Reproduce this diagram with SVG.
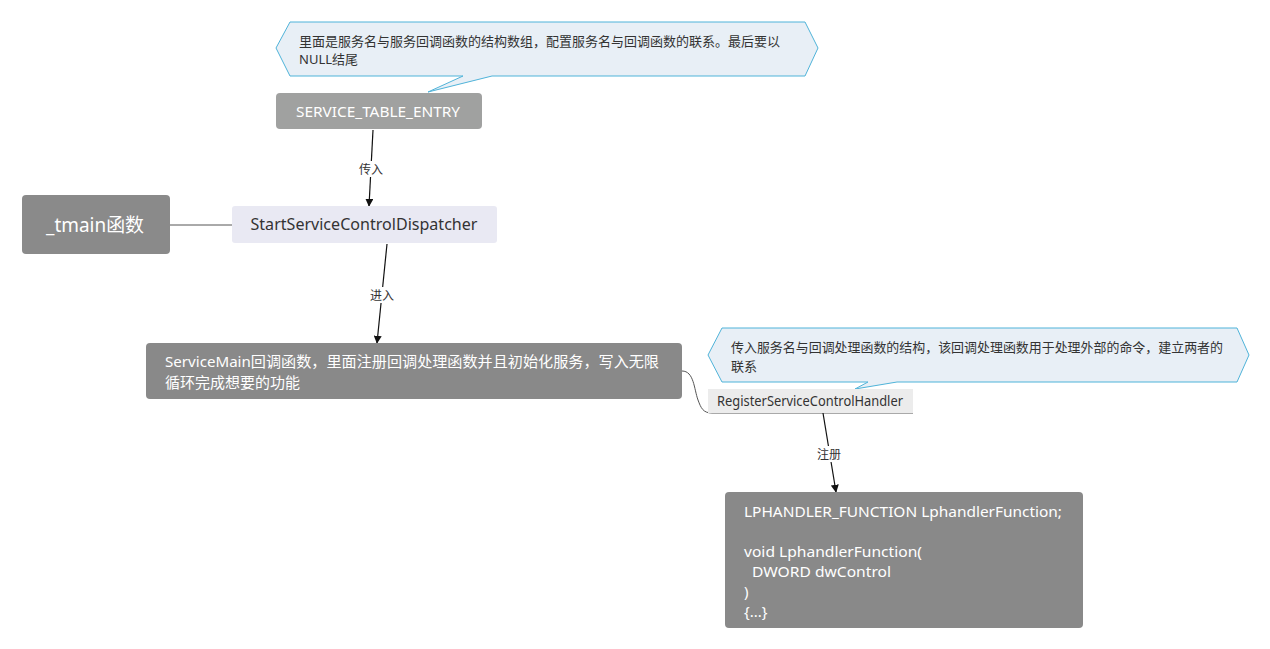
<svg xmlns="http://www.w3.org/2000/svg" width="1270" height="649" viewBox="0 0 1270 649">
<defs>
<style>
text{font-family:"Noto Sans","Noto Sans CJK SC",sans-serif;}
.w{fill:#ffffff;}
.d{fill:#333333;}
.call{fill:#e8eff6;stroke:#4fb3d9;stroke-width:1;}
.edge{stroke:#111111;stroke-width:1.2;fill:none;}
.plain{stroke:#555555;stroke-width:1;fill:none;}
.lbl{font-size:12px;fill:#333333;text-anchor:middle;}
.lblbg{fill:#ffffff;}
</style>
<marker id="arr" viewBox="0 0 10 10" refX="9" refY="5" markerWidth="8" markerHeight="8" orient="auto-start-reverse" markerUnits="userSpaceOnUse">
<path d="M0,0 L10,5 L0,10 z" fill="#111111"/>
</marker>
</defs>
<rect width="1270" height="649" fill="#ffffff"/>

<g id="connectors">
<line class="plain" x1="170" y1="225" x2="232" y2="225"/>
<line class="edge" x1="373" y1="130" x2="369" y2="206" marker-end="url(#arr)"/>
<rect class="lblbg" x="356" y="161" width="30" height="16"/>
<text class="lbl" x="371" y="174">传入</text>
<line class="edge" x1="387" y1="244" x2="377" y2="343" marker-end="url(#arr)"/>
<rect class="lblbg" x="366" y="287" width="30" height="16"/>
<text class="lbl" x="382" y="300">进入</text>
<path class="plain" d="M682,371 C694,371 694,389 698,400 C701,408 703,413 712,413 L913,413"/>
<line class="edge" x1="823" y1="413" x2="836" y2="492" marker-end="url(#arr)"/>
<rect class="lblbg" x="814" y="446" width="30" height="16"/>
<text class="lbl" x="829" y="459">注册</text>
</g>

<g id="callout1">
<path class="call" d="M290,22 L805,22 L818,48 L805,76 L492,76 L428,92 L463,76 L290,76 L276,48 Z"/>
<text class="d" x="299" y="46" font-size="13" textLength="481" lengthAdjust="spacingAndGlyphs">里面是服务名与服务回调函数的结构数组，配置服务名与回调函数的联系。最后要以</text>
<text class="d" x="299" y="64" font-size="13">NULL结尾</text>
</g>

<g id="service_table_entry">
<rect x="276" y="93" width="206" height="36" rx="4" fill="#a0a1a0"/>
<text class="w" x="296" y="117" font-size="14.5" textLength="164" lengthAdjust="spacingAndGlyphs">SERVICE_TABLE_ENTRY</text>
</g>

<g id="tmain">
<rect x="22" y="195" width="148" height="59" rx="4" fill="#8a8a8a"/>
<text class="w" x="95" y="232" font-size="19" text-anchor="middle" textLength="98" lengthAdjust="spacingAndGlyphs">_tmain函数</text>
</g>

<g id="dispatcher">
<rect x="232" y="206" width="265" height="37" rx="3" fill="#e9e9f3"/>
<text class="d" x="364" y="230" font-size="16" text-anchor="middle" textLength="227" lengthAdjust="spacingAndGlyphs">StartServiceControlDispatcher</text>
</g>

<g id="servicemain">
<rect x="146" y="343" width="536" height="56" rx="4" fill="#898989"/>
<text class="w" x="165" y="367" font-size="15" textLength="494" lengthAdjust="spacingAndGlyphs">ServiceMain回调函数，里面注册回调处理函数并且初始化服务，写入无限</text>
<text class="w" x="165" y="388" font-size="15" textLength="135" lengthAdjust="spacingAndGlyphs">循环完成想要的功能</text>
</g>

<g id="callout2">
<path class="call" d="M722,328 L1237,328 L1249,355 L1237,382 L897,382 L855,389 L868,382 L722,382 L708,355 Z"/>
<text class="d" x="731" y="352" font-size="13" textLength="492" lengthAdjust="spacingAndGlyphs">传入服务名与回调处理函数的结构，该回调处理函数用于处理外部的命令，建立两者的</text>
<text class="d" x="731" y="371" font-size="13">联系</text>
</g>

<g id="register">
<rect x="708" y="389" width="205" height="24" fill="#ececec"/>
<text class="d" x="717" y="406" font-size="14" textLength="186" lengthAdjust="spacingAndGlyphs">RegisterServiceControlHandler</text>
</g>

<g id="lphandler">
<rect x="725" y="492" width="358" height="136" rx="4" fill="#898989"/>
<text class="w" x="744" y="517" font-size="15" textLength="318" lengthAdjust="spacingAndGlyphs">LPHANDLER_FUNCTION LphandlerFunction;</text>
<text class="w" x="744" y="557" font-size="15" textLength="178" lengthAdjust="spacingAndGlyphs">void LphandlerFunction(</text>
<text class="w" x="752" y="577" font-size="15" textLength="139" lengthAdjust="spacingAndGlyphs">DWORD dwControl</text>
<text class="w" x="744" y="597" font-size="15">)</text>
<text class="w" x="744" y="617" font-size="15">{...}</text>
</g>
</svg>
